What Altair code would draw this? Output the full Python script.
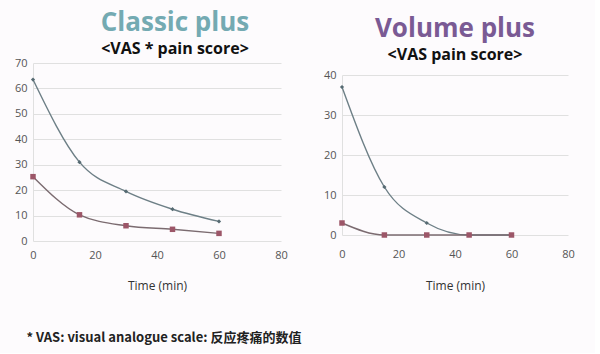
import altair as alt
import pandas as pd

times = [0, 15, 30, 45, 60]
classic_a = [63.5, 31, 19.5, 12.5, 7.7]
classic_b = [25.3, 10.3, 6, 4.6, 3]
volume_a = [37, 12, 3, 0, 0]
volume_b = [3, 0, 0, 0, 0]

def df(a, b):
    rows = []
    for t, v in zip(times, a):
        rows.append({"t": t, "v": v, "s": "A"})
    for t, v in zip(times, b):
        rows.append({"t": t, "v": v, "s": "B"})
    return pd.DataFrame(rows)

def panel(data, ymax, ystep, w, h, top, title, subtitle, tcolor, dx, xlpad, xtpad):
    x = alt.X("t:Q", scale=alt.Scale(domain=[0, 80]),
              axis=alt.Axis(values=[0, 20, 40, 60, 80], title="Time (min)", grid=False,
                            domain=False, ticks=False, labelColor="#555", labelFontSize=11,
                            labelFlush=False,
                            titleFontSize=12, titleFontWeight="normal", titleColor="#333",
                            titlePadding=xtpad, labelPadding=xlpad, labelFont="Open Sans", titleFont="Open Sans"))
    y = alt.Y("v:Q", scale=alt.Scale(domain=[0, ymax], range=[h, top]),
              axis=alt.Axis(values=list(range(0, ymax + 1, ystep)), title=None, grid=True,
                            gridColor="#e0e0e0", domain=True, domainColor="#e0e0e0", ticks=False,
                            labelColor="#555", labelFontSize=11, labelPadding=6, labelFont="Open Sans"))
    base = alt.Chart(data)
    la = base.transform_filter("datum.s=='A'").mark_line(interpolate="monotone", color="#6d7f86", strokeWidth=1.4).encode(x=x, y=y)
    pa = base.transform_filter("datum.s=='A'").mark_point(shape="diamond", filled=True, size=18, color="#566a72", opacity=1).encode(x=x, y=y)
    lb = base.transform_filter("datum.s=='B'").mark_line(interpolate="monotone", color="#7b6b70", strokeWidth=1.4).encode(x=x, y=y)
    pb = base.transform_filter("datum.s=='B'").mark_point(shape="square", filled=True, size=30, color="#9c5668", opacity=1).encode(x=x, y=y)
    return alt.layer(la, lb, pa, pb).properties(
        width=w, height=h,
        title=alt.TitleParams(text=title, subtitle=subtitle, color=tcolor, fontSize=26,
                              font="Open Sans", fontWeight="bold", subtitleFont="Open Sans",
                              subtitleFontSize=16, subtitleFontWeight="bold", subtitleColor="#111",
                              anchor="middle", dx=dx, offset=0, subtitlePadding=5))

left = panel(df(classic_a, classic_b), 70, 10, 248, 178, 0, "Classic plus", "<VAS * pain score>", "#74aab2", 18, 8, 20)
right = panel(df(volume_a, volume_b), 40, 10, 226, 172, 12, "Volume plus", "<VAS pain score>", "#7a5a94", 0, 13, 21)

chart = alt.hconcat(left, right, spacing=35).properties(
    title=alt.TitleParams(text="* VAS: visual analogue scale: 反应疼痛的数值", orient="bottom",
                          anchor="start", fontSize=13, fontWeight="bold", color="#222",
                          font="Noto Sans CJK SC", offset=41, dx=12),
    background="#fdfbfd",
    padding={"left": 14, "top": 10, "right": 20, "bottom": 8},
).configure_view(stroke=None)

chart.save("out.html", embed_options={"renderer": "svg", "actions": False})
